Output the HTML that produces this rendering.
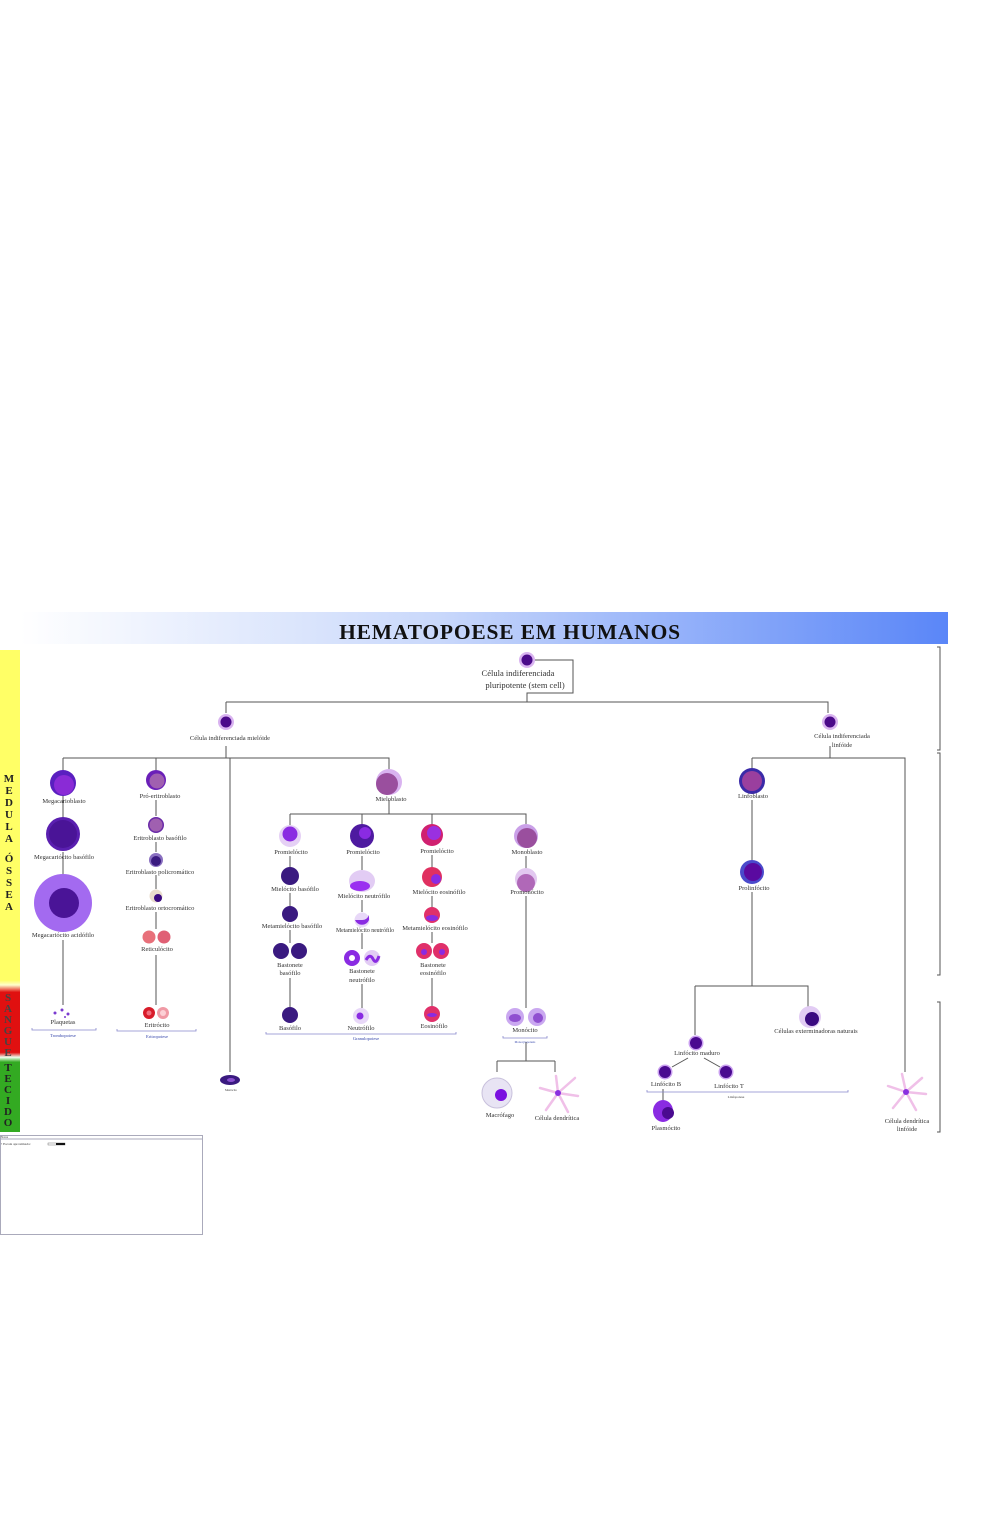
<!DOCTYPE html>
<html><head><meta charset="utf-8"><style>
html,body{margin:0;padding:0;background:#fff;}
svg{display:block;}
text{font-family:"Liberation Serif",serif;fill:#333;}
</style></head><body>
<svg width="982" height="1538" viewBox="0 0 982 1538" xmlns="http://www.w3.org/2000/svg">
<defs>
<linearGradient id="bn" x1="0" x2="1" y1="0" y2="0">
<stop offset="0" stop-color="#ffffff"/><stop offset="0.45" stop-color="#c9d8fb"/><stop offset="1" stop-color="#5a86f8"/>
</linearGradient>
<linearGradient id="strip" x1="0" x2="0" y1="0" y2="1">
<stop offset="0" stop-color="#ffff66"/><stop offset="0.685" stop-color="#ffff66"/>
<stop offset="0.695" stop-color="#ffffcc"/><stop offset="0.71" stop-color="#e01010"/>
<stop offset="0.835" stop-color="#e01010"/><stop offset="0.845" stop-color="#eeffee"/>
<stop offset="0.855" stop-color="#33aa22"/><stop offset="1" stop-color="#33aa22"/>
</linearGradient>
</defs>
<rect x="20" y="612" width="928" height="32" fill="url(#bn)"/>
<text x="510" y="639" text-anchor="middle" font-size="21.5" style="fill:#111;font-weight:bold" letter-spacing="0.8">HEMATOPOESE EM HUMANOS</text>
<rect x="0" y="650" width="20" height="482" fill="url(#strip)"/>
<g font-size="11" text-anchor="middle" style="font-weight:bold">
<text x="9" y="782" style="fill:#222">M</text><text x="9" y="794" style="fill:#222">E</text><text x="9" y="806" style="fill:#222">D</text><text x="9" y="818" style="fill:#222">U</text><text x="9" y="830" style="fill:#222">L</text><text x="9" y="842" style="fill:#222">A</text>
<text x="9" y="862" style="fill:#222">Ó</text><text x="9" y="874" style="fill:#222">S</text><text x="9" y="886" style="fill:#222">S</text><text x="9" y="898" style="fill:#222">E</text><text x="9" y="910" style="fill:#222">A</text>
<text x="8" y="1001" style="fill:#444">S</text><text x="8" y="1012" style="fill:#444">A</text><text x="8" y="1023" style="fill:#444">N</text><text x="8" y="1034" style="fill:#444">G</text><text x="8" y="1045" style="fill:#444">U</text><text x="8" y="1056" style="fill:#444">E</text>
<text x="8" y="1071" style="fill:#222">T</text><text x="8" y="1082" style="fill:#222">E</text><text x="8" y="1093" style="fill:#222">C</text><text x="8" y="1104" style="fill:#222">I</text><text x="8" y="1115" style="fill:#222">D</text><text x="8" y="1126" style="fill:#222">O</text>
</g>
<rect x="0.5" y="1135.5" width="202" height="99" fill="#fff" stroke="#aab" stroke-width="1"/>
<line x1="0" y1="1139" x2="203" y2="1139" stroke="#aab"/>
<text x="1" y="1138" font-size="3">Notas</text>
<text x="1" y="1145" font-size="3.5">• Escala aproximada:</text>
<rect x="48" y="1143" width="17" height="2" fill="#fff" stroke="#555" stroke-width="0.4"/><rect x="56" y="1143" width="9" height="2" fill="#111"/>
<g stroke="#555" fill="none" stroke-width="1">
<path d="M937 647 H940 V750 H937"/><path d="M937 753 H940 V975 H937"/><path d="M937 1002 H940 V1132 H937"/>
</g>
<g stroke="#555" fill="none" stroke-width="1">
<path d="M535 660 H573 V693 H527 V702"/>
<path d="M226 702 H828 V713"/><path d="M226 702 V713"/>
<path d="M226 746 V758"/><path d="M63 758 H389 V770"/><path d="M63 758 V771"/><path d="M156 758 V770"/>
<path d="M230 758 V1072"/>
<path d="M63 790 V820"/><path d="M63 852 V876"/><path d="M63 940 V1005"/>
<path d="M156 800 V816"/><path d="M156 842 V852"/><path d="M156 875 V889"/><path d="M156 912 V929"/><path d="M156 955 V1005"/>
<path d="M389 800 V814"/><path d="M290 814 H526 V824"/><path d="M290 814 V826"/><path d="M362 814 V826"/><path d="M432 814 V826"/>
<path d="M290 856 V868"/><path d="M290 893 V906"/><path d="M290 930 V943"/><path d="M290 978 V1007"/>
<path d="M362 856 V870"/><path d="M362 900 V912"/><path d="M362 933 V949"/><path d="M362 984 V1008"/>
<path d="M432 855 V868"/><path d="M432 896 V908"/><path d="M432 932 V943"/><path d="M432 978 V1006"/>
<path d="M526 856 V870"/><path d="M526 896 V1008"/>
<path d="M526 1042 V1061"/><path d="M497 1061 H555"/><path d="M497 1061 V1072"/><path d="M555 1061 V1072"/>
<path d="M830 746 V758"/><path d="M752 758 H905 V1072"/><path d="M752 758 V768"/>
<path d="M752 800 V860"/><path d="M752 892 V986"/><path d="M695 986 H808 V1008"/><path d="M695 986 V1035"/>
<path d="M688 1058 L672 1067"/><path d="M704 1058 L720 1067"/><path d="M663 1089 V1100"/>
</g>
<g stroke="#8888cc" fill="none" stroke-width="0.8">
<path d="M32 1028 V1030 H96 V1028"/><path d="M117 1029 V1031 H196 V1029"/><path d="M266 1032 V1034 H456 V1032"/>
<path d="M503 1036 V1038 H547 V1036"/><path d="M647 1090 V1092 H848 V1090"/>
</g>
<g font-size="4.5" text-anchor="middle" style="fill:#3344aa">
<text x="63" y="1037" style="fill:#3344aa">Trombopoiese</text><text x="157" y="1038" style="fill:#3344aa">Eritropoiese</text>
<text x="366" y="1040" style="fill:#3344aa">Granulopoiese</text><text x="525" y="1043" font-size="3" style="fill:#3344aa">Monocytopoiesis</text>
<text x="736" y="1098" font-size="3.5" style="fill:#333">Linfopoiese</text>
</g>
<g>
<circle cx="527" cy="660" r="8" fill="#d9b3f0"/><circle cx="527" cy="660" r="5.5" fill="#4b0a8a"/>
<circle cx="226" cy="722" r="8" fill="#d9b3f0"/><circle cx="226" cy="722" r="5.5" fill="#4b0a8a"/>
<circle cx="830" cy="722" r="8" fill="#d9b3f0"/><circle cx="830" cy="722" r="5.5" fill="#4b0a8a"/>
<circle cx="63" cy="783" r="13" fill="#5a1fc0"/><circle cx="64" cy="785" r="10" fill="#8a2bd6"/>
<circle cx="63" cy="834" r="17" fill="#5a1fb0"/><circle cx="63" cy="834" r="14" fill="#4a1497"/>
<circle cx="63" cy="903" r="29" fill="#a36af0"/><circle cx="64" cy="903" r="15" fill="#4a1497"/>
<g fill="#7a3bd0"><circle cx="55" cy="1013" r="1.5"/><circle cx="62" cy="1010" r="1.5"/><circle cx="68" cy="1014" r="1.5"/><circle cx="65" cy="1017" r="1"/></g>
<circle cx="156" cy="780" r="10" fill="#6a1fb8"/><circle cx="157" cy="781" r="7.5" fill="#a060b0"/>
<circle cx="156" cy="825" r="8" fill="#6a2aa8"/><circle cx="156" cy="825" r="6.5" fill="#a060b0"/>
<circle cx="156" cy="860" r="7" fill="#8a70c0"/><circle cx="156" cy="861" r="5" fill="#3a1a80"/>
<circle cx="156" cy="896" r="6.5" fill="#e9dccc"/><circle cx="158" cy="898" r="4" fill="#3a0a80"/>
<circle cx="149" cy="937" r="6.5" fill="#e8707a"/><circle cx="164" cy="937" r="6.5" fill="#e06075"/>
<circle cx="149" cy="1013" r="6" fill="#d81c2a"/><circle cx="149" cy="1013" r="2.5" fill="#f07080"/>
<circle cx="163" cy="1013" r="6" fill="#f09aa5"/><circle cx="163" cy="1013" r="3" fill="#fcd0d5"/>
<ellipse cx="230" cy="1080" rx="10" ry="5" fill="#3a1a80"/><ellipse cx="231" cy="1080" rx="4" ry="2" fill="#8a50d0"/>
<circle cx="389" cy="782" r="13" fill="#d9b3f0"/><circle cx="387" cy="784" r="11" fill="#9a4f9e"/>
<circle cx="290" cy="836" r="11" fill="#e5d0f5"/><circle cx="290" cy="834" r="7.5" fill="#8a2be2"/>
<circle cx="362" cy="836" r="12" fill="#4e1aa0"/><circle cx="365" cy="833" r="6" fill="#8a2be2"/>
<circle cx="432" cy="835" r="11" fill="#d02070"/><circle cx="434" cy="833" r="7" fill="#9a30e0"/>
<circle cx="526" cy="836" r="12" fill="#caa0e8"/><circle cx="527" cy="838" r="10" fill="#9a4f9e"/>
<circle cx="290" cy="876" r="9" fill="#3a1a80"/>
<ellipse cx="362" cy="881" rx="13" ry="11" fill="#e2ccf4"/><ellipse cx="360" cy="886" rx="10" ry="5" fill="#9a30f0"/>
<circle cx="432" cy="877" r="10" fill="#e03060"/><circle cx="436" cy="879" r="5" fill="#8a2be2"/>
<circle cx="526" cy="879" r="11" fill="#e2c8f0"/><circle cx="526" cy="883" r="9" fill="#b068b8"/>
<circle cx="290" cy="914" r="8" fill="#3a1a80"/>
<circle cx="362" cy="920" r="7.5" fill="#e8d8f8"/><path d="M355 920 A7.5 7.5 0 0 0 369 920 L369 915 A7 7 0 0 1 362 920 Z" fill="#8a2be2"/>
<circle cx="432" cy="915" r="8" fill="#e0306a"/><ellipse cx="432" cy="918" rx="6" ry="3" fill="#8a2be2"/>
<circle cx="281" cy="951" r="8" fill="#3a1a80"/><circle cx="299" cy="951" r="8" fill="#3a1a80"/>
<circle cx="352" cy="958" r="8" fill="#8a2be2"/><circle cx="352" cy="958" r="3" fill="#fff"/><circle cx="372" cy="958" r="8" fill="#e2ccf4"/><path d="M366 960 Q370 953 373 959 T379 956" stroke="#8a2be2" stroke-width="3" fill="none"/>
<circle cx="424" cy="951" r="8" fill="#e0306a"/><circle cx="441" cy="951" r="8" fill="#e0306a"/><circle cx="424" cy="952" r="3" fill="#8a2be2"/><circle cx="442" cy="952" r="3" fill="#8a2be2"/>
<circle cx="290" cy="1015" r="8" fill="#3a1a80"/>
<circle cx="361" cy="1016" r="8" fill="#e8d8f8"/><circle cx="360" cy="1016" r="3.5" fill="#8a2be2"/>
<circle cx="432" cy="1014" r="8" fill="#e0306a"/><ellipse cx="432" cy="1015" rx="5" ry="2" fill="#8a2be2"/>
<circle cx="515" cy="1017" r="9" fill="#caa8f0"/><ellipse cx="515" cy="1018" rx="6" ry="4" fill="#9050d0"/>
<circle cx="537" cy="1017" r="9" fill="#caa8f0"/><ellipse cx="538" cy="1018" rx="5" ry="5" fill="#9050d0"/>
<circle cx="497" cy="1093" r="15" fill="#e8e4f4" stroke="#c8c0dc"/><circle cx="501" cy="1095" r="6" fill="#7a10e0"/>
<g stroke="#f0c0e8" stroke-width="2.5" stroke-linecap="round"><path d="M558 1093 L575 1078 M558 1093 L540 1088 M558 1093 L546 1110 M558 1093 L568 1112 M558 1093 L556 1076 M558 1093 L578 1096"/>
<path d="M906 1092 L922 1078 M906 1092 L888 1086 M906 1092 L893 1108 M906 1092 L916 1110 M906 1092 L902 1074 M906 1092 L926 1094"/></g>
<circle cx="558" cy="1093" r="3" fill="#8a30e0"/><circle cx="906" cy="1092" r="3" fill="#8a30e0"/>
<circle cx="752" cy="781" r="13" fill="#3a2aa8"/><circle cx="752" cy="781" r="10" fill="#9a3f9e"/>
<circle cx="752" cy="872" r="12" fill="#4a4acb"/><circle cx="753" cy="872" r="9" fill="#5a0aa0"/>
<circle cx="810" cy="1017" r="11" fill="#e2ccf4"/><circle cx="812" cy="1019" r="7" fill="#3a0a80"/>
<circle cx="696" cy="1043" r="7.5" fill="#caa0f0"/><circle cx="696" cy="1043" r="6" fill="#4a0a90"/>
<circle cx="665" cy="1072" r="7.5" fill="#caa0f0"/><circle cx="665" cy="1072" r="6" fill="#4a0a90"/>
<circle cx="726" cy="1072" r="7.5" fill="#caa0f0"/><circle cx="726" cy="1072" r="6" fill="#4a0a90"/>
<ellipse cx="663" cy="1111" rx="10" ry="11" fill="#8a2be2"/><circle cx="668" cy="1113" r="6" fill="#4a0a90"/>
</g>
<g font-size="6.5" text-anchor="middle">
<text x="518" y="676" font-size="8.5">Célula indiferenciada</text>
<text x="525" y="688" font-size="8.5">pluripotente (stem cell)</text>
<text x="230" y="740">Célula indiferenciada mielóide</text>
<text x="842" y="738">Célula indiferenciada</text><text x="842" y="747">linfóide</text>
<text x="64" y="803">Megacarioblasto</text><text x="64" y="859">Megacariócito basófilo</text><text x="63" y="937">Megacariócito acidófilo</text>
<text x="63" y="1024">Plaquetas</text>
<text x="160" y="798">Pró-eritroblasto</text><text x="160" y="840">Eritroblasto basófilo</text><text x="160" y="874">Eritroblasto policromático</text><text x="160" y="910">Eritroblasto ortocromático</text>
<text x="157" y="951">Reticulócito</text><text x="157" y="1027">Eritrócito</text>
<text x="391" y="801">Mieloblasto</text>
<text x="291" y="854">Promielócito</text><text x="363" y="854">Promielócito</text><text x="437" y="853">Promielócito</text><text x="527" y="854">Monoblasto</text>
<text x="295" y="891">Mielócito basófilo</text><text x="364" y="898">Mielócito neutrófilo</text><text x="439" y="894">Mielócito eosinófilo</text><text x="527" y="894">Promonócito</text>
<text x="292" y="928">Metamielócito basófilo</text><text x="365" y="932" font-size="5.8">Metamielócito neutrófilo</text><text x="435" y="930">Metamielócito eosinófilo</text>
<text x="290" y="967">Bastonete</text><text x="290" y="975">basófilo</text>
<text x="362" y="973">Bastonete</text><text x="362" y="982">neutrófilo</text>
<text x="433" y="967">Bastonete</text><text x="433" y="975">eosinófilo</text>
<text x="290" y="1030">Basófilo</text><text x="361" y="1030">Neutrófilo</text><text x="434" y="1028">Eosinófilo</text>
<text x="525" y="1032">Monócito</text>
<text x="231" y="1091" font-size="3">Mastócito</text>
<text x="500" y="1117">Macrófago</text><text x="557" y="1120">Célula dendrítica</text>
<text x="753" y="798">Linfoblasto</text><text x="754" y="890">Prolinfócito</text>
<text x="697" y="1055">Linfócito maduro</text><text x="816" y="1033">Células exterminadoras naturais</text>
<text x="666" y="1086">Linfócito B</text><text x="729" y="1088">Linfócito T</text>
<text x="666" y="1130">Plasmócito</text>
<text x="907" y="1123">Célula dendrítica</text><text x="907" y="1131">linfóide</text>
</g>
</svg>
</body></html>
